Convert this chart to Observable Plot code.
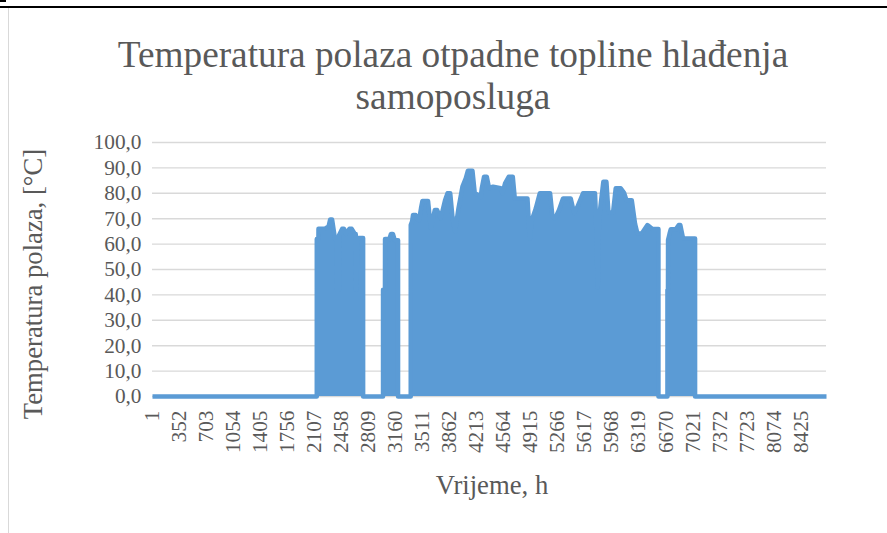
<!DOCTYPE html>
<html>
<head>
<meta charset="utf-8">
<script src="https://cdn.jsdelivr.net/npm/d3@7"></script>
<script src="https://cdn.jsdelivr.net/npm/@observablehq/plot@0.6"></script>
<style>
  html, body { margin: 0; padding: 0; background: #fff; }
  #wrap { position: relative; width: 887px; height: 533px; overflow: hidden; font-family: "Liberation Serif", "Times New Roman", serif; color: #595959; }
  #topline { position: absolute; left: 0; top: 6px; width: 887px; height: 2px; background: #000; }
  #corner { position: absolute; left: 0; top: 0; width: 6px; height: 2px; background: #000; }
  #frame { position: absolute; left: 8px; top: 8px; width: 1px; height: 525px; background: #d9d9d9; }
  #title { position: absolute; left: 0; width: 906px; top: 34px; text-align: center; font-size: 37.3px; line-height: 42px; }
  #ytitle { position: absolute; left: 33px; top: 284px; transform: translate(-50%, -50%) rotate(-90deg); white-space: nowrap; font-size: 26.7px; }
  #xtitle { position: absolute; left: 492px; top: 485px; transform: translate(-50%, -50%); white-space: nowrap; font-size: 26.7px; }
  #chart { position: absolute; left: 0; top: 0; }
</style>
</head>
<body>
<div id="wrap">
  <div id="topline"></div>
  <div id="corner"></div>
  <div id="frame"></div>
  <div id="chart"></div>
  <div id="title">Temperatura polaza otpadne topline hlađenja<br>samoposluga</div>
  <div id="ytitle">Temperatura polaza, [°C]</div>
  <div id="xtitle">Vrijeme, h</div>
</div>
<script>
// Envelope of the hourly series (hour, °C)
const hours = [
  1, 2135,
  2136, 2136, 2157, 2158, 2239, 2290, 2310, 2335, 2373, 2394, 2395, 2424, 2425, 2465, 2490, 2510, 2560, 2590, 2630, 2642, 2643, 2655, 2656, 2738, 2738,
  2997, 2997, 3022, 3023, 3080, 3100, 3125, 3150, 3192, 3192,
  3357, 3357, 3375, 3387, 3420, 3444, 3465, 3490, 3509, 3582, 3617, 3660, 3670, 3700, 3747, 3803, 3835, 3870, 3899, 3933, 3977, 4029, 4072, 4100, 4159, 4189, 4237, 4267, 4280, 4310, 4345, 4375, 4427, 4527, 4549, 4583, 4630, 4683, 4709, 4874, 4904, 4930, 4982, 5034, 5168, 5199, 5233, 5284, 5336, 5436, 5479, 5523, 5596, 5752, 5770, 5787, 5800, 5817, 5860, 5900, 5926, 5986, 6021, 6086, 6129, 6160, 6229, 6272, 6303, 6359, 6400, 6433, 6498, 6576, 6576,
  6693, 6693, 6700, 6701, 6720, 6736, 6801, 6840, 6860, 6896, 7052, 7052,
  8760
];
const temps = [
  0, 0,
  0, 62, 62, 66, 66, 67, 69.7, 69.7, 62, 62, 42, 42, 63.5, 66, 66, 64, 66, 66, 64, 64, 42, 42, 62.4, 62.4, 0,
  0, 42, 42, 62, 62, 64, 64, 61.5, 61.5, 0,
  0, 67.5, 69, 71.5, 71.5, 70, 69.4, 74, 77, 77, 66.3, 72, 73.4, 73.4, 70.2, 77.3, 80, 80, 70.7, 64.9, 74, 82.6, 85.9, 88.9, 88.9, 80, 79.3, 78.6, 81.9, 86.5, 86.5, 82, 82.6, 82, 80, 83.9, 86.5, 86.5, 78, 78, 62.2, 69.4, 74, 80, 80, 70.7, 70.1, 73.4, 78, 78, 72.3, 74.7, 80, 80, 65.5, 43, 65, 73.4, 84.5, 84.5, 72.5, 72.3, 82, 82, 80.2, 77.3, 77.3, 68, 64.2, 64.2, 66, 67.5, 65.9, 65.9, 0,
  0, 42, 42, 61.6, 64, 65.8, 65.8, 67.5, 67.5, 62.2, 62.2, 0,
  0
];
const yTicks = [0, 10, 20, 30, 40, 50, 60, 70, 80, 90, 100];
const xTickLabels = ["1", "352", "703", "1054", "1405", "1756", "2107", "2458", "2809", "3160", "3511", "3862", "4213", "4564", "4915", "5266", "5617", "5968", "6319", "6670", "7021", "7372", "7723", "8074", "8425"];

const data = hours.map((h, i) => ({h, t: temps[i]}));
const xTicks = xTickLabels.map(Number);
const blue = "#5B9BD5";

const chart = Plot.plot({
  width: 887,
  height: 533,
  marginTop: 142,
  marginBottom: 137,
  marginLeft: 152,
  marginRight: 61,
  style: {fontFamily: "'Liberation Serif', 'Times New Roman', serif", fontSize: "21.3px", color: "#595959", background: "transparent", overflow: "visible"},
  x: {domain: [1, 8760]},
  y: {domain: [0, 100]},
  marks: [
    Plot.gridY(yTicks, {stroke: "#d9d9d9", strokeOpacity: 1, strokeWidth: 1.4}),
    Plot.areaY(data, {x: "h", y: "t", fill: blue}),
    Plot.line(data, {x: "h", y: "t", stroke: blue, strokeWidth: 4.5, strokeLinejoin: "round", strokeLinecap: "butt"}),
    Plot.axisY(yTicks, {tickSize: 0, tickPadding: 11, tickFormat: d => d.toFixed(1).replace(".", ","), label: null}),
    Plot.axisX(xTicks, {tickSize: 0, tickPadding: 14, tickRotate: -90, tickFormat: d => String(d), label: null})
  ]
});
document.getElementById("chart").appendChild(chart);
</script>
</body>
</html>
